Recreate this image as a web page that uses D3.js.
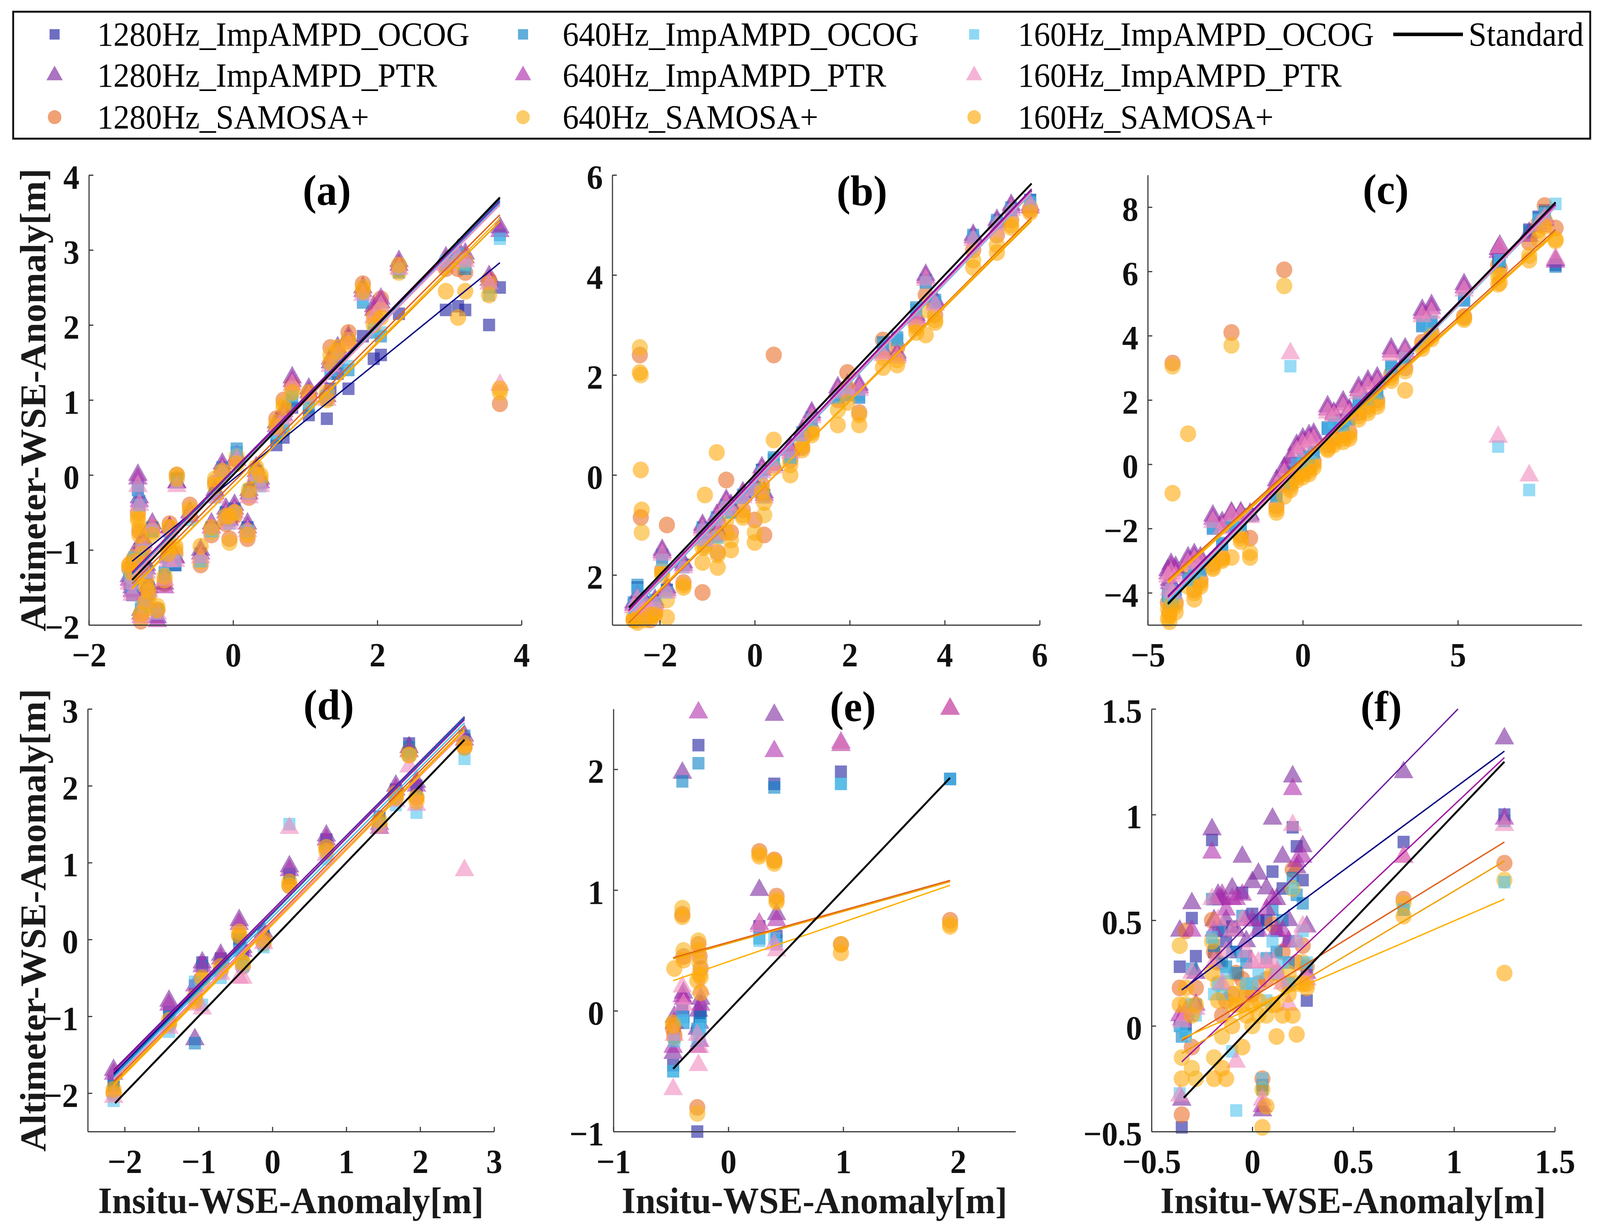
<!DOCTYPE html>
<html><head><meta charset="utf-8">
<script src="https://cdn.jsdelivr.net/npm/d3@7"></script>
<style>html,body{margin:0;padding:0;width:100%;height:100%;overflow:hidden;background:#fff}svg{display:block;width:100vw;height:100vh}</style>
</head><body>
<svg id="c" viewBox="0 0 4249 3149" preserveAspectRatio="none"></svg>
<script>
// ---------------- DATA ----------------
const seriesNames = ["1280Hz_ImpAMPD_OCOG","640Hz_ImpAMPD_OCOG","160Hz_ImpAMPD_OCOG",
  "1280Hz_ImpAMPD_PTR","640Hz_ImpAMPD_PTR","160Hz_ImpAMPD_PTR",
  "1280Hz_SAMOSA+","640Hz_SAMOSA+","160Hz_SAMOSA+"];
const seriesShapes = ["square","square","square","triangle","triangle","triangle","circle","circle","circle"];
const seriesFill = ["#2020a0","#0a82c4","#52c3ef","#7b2a9e","#b030ae","#f08cbe","#ea6f2a","#f8b21a","#ffa90a"];
const lineColors = ["#000080","#0072bd","#4dbeee","#6a1b9a","#a0189e","#ff8ec0","#e0601a","#f0a000","#ffb000"];
const standardName = "Standard";
const panelLabels = ["(a)","(b)","(c)","(d)","(e)","(f)"];
const xDomains = [[-2,4],[-3,6],[-5,9],[-2.5,3],[-1,2.5],[-0.5,1.5]];
const yDomains = [[-2,4],[-3,6],[-5,9],[-2.5,3],[-1,2.5],[-0.5,1.5]];
const xTicks = [[-2,0,2,4],[-2,0,2,4,6],[-5,0,5],[-2,-1,0,1,2,3],[-1,0,1,2],[-0.5,0,0.5,1,1.5]];
const yTicks = [[-2,-1,0,1,2,3,4],[-2,0,2,4,6],[-4,-2,0,2,4,6,8],[-2,-1,0,1,2,3],[-1,0,1,2],[-0.5,0,0.5,1,1.5]];
const yTickTextB = ["2","0","2","4","6"];
const xTitle = "Insitu-WSE-Anomaly[m]";
const yTitle = "Altimeter-WSE-Anomaly[m]";

// rows: [insitu x, O1280, O640, O160, P1280, P640, P160, S1280, S640, S160]
const panelA = [
[-1.44,-1.45,-1.4,-1.35,-1.35,-1.4,-1.45,-1.25,-1.2,-1.2],
[-1.4,-1.6,-1.55,-1.5,-1.5,-1.55,-1.6,-1.4,-1.35,-1.3],
[-1.37,-1.2,-1.15,-1.1,-1.05,-1.1,-1.2,-1.2,-1.1,-1.15],
[-1.32,-0.2,-0.15,-0.2,0.0,-0.05,-0.15,-0.5,-0.55,-0.6],
[-1.3,-0.4,-0.35,-0.4,-0.3,-0.35,-0.4,-0.75,-0.7,-0.8],
[-1.28,-1.85,-1.8,-1.75,-1.8,-1.85,-1.9,-1.95,-1.9,-1.85],
[-1.25,-1.0,-0.95,-1.0,-0.85,-0.9,-0.95,-1.0,-0.95,-1.05],
[-1.22,-1.7,-1.65,-1.7,-1.6,-1.65,-1.7,-1.75,-1.8,-1.7],
[-1.2,-1.3,-1.25,-1.3,-1.2,-1.25,-1.3,-1.45,-1.4,-1.5],
[-1.17,-1.55,-1.5,-1.55,-1.45,-1.5,-1.55,-1.6,-1.65,-1.55],
[-1.12,-0.75,-0.7,-0.75,-0.65,-0.7,-0.7,-0.7,-0.75,-0.8],
[-1.05,-1.85,-1.8,-1.85,-1.9,-1.95,-1.85,-1.8,-1.75,-1.8],
[-0.95,-1.35,-1.3,-1.35,-1.45,-1.5,-1.4,-1.45,-1.4,-1.35],
[-0.9,-1.15,-1.1,-1.15,-1.05,-1.1,-1.15,-0.95,-1.0,-1.05],
[-0.88,-0.75,-0.75,-0.8,-0.7,-0.7,-0.75,-0.65,-0.7,-0.7],
[-0.8,-1.2,-1.2,-1.15,-1.1,-1.1,-1.15,-1.05,-1.0,-0.95],
[-0.78,-0.05,-0.05,-0.1,-0.1,-0.1,-0.15,0.0,0.0,-0.05],
[-0.6,-0.55,-0.55,-0.6,-0.5,-0.55,-0.55,-0.4,-0.45,-0.5],
[-0.45,-1.05,-1.1,-1.15,-1.0,-1.05,-1.1,-1.2,-1.15,-0.95],
[-0.3,-0.7,-0.7,-0.75,-0.65,-0.7,-0.7,-0.8,-0.75,-0.7],
[-0.25,-0.25,-0.25,-0.3,-0.2,-0.25,-0.3,-0.1,-0.05,-0.15],
[-0.15,0.05,0.1,0.05,0.15,0.1,0.05,0.05,0.0,0.05],
[-0.1,-0.5,-0.5,-0.55,-0.45,-0.5,-0.55,-0.65,-0.6,-0.55],
[-0.05,-0.6,-0.6,-0.65,-0.55,-0.6,-0.65,-0.85,-0.9,-0.55],
[0.02,-0.45,-0.45,-0.5,-0.4,-0.45,-0.5,-0.55,-0.5,-0.5],
[0.05,0.3,0.35,0.3,0.2,0.25,0.2,0.2,0.25,0.15],
[0.2,-0.7,-0.7,-0.75,-0.65,-0.7,-0.75,-0.85,-0.75,-0.8],
[0.22,-0.25,-0.2,-0.25,-0.2,-0.25,-0.3,-0.3,-0.25,-0.2],
[0.32,0.05,0.05,0.0,0.1,0.05,0.0,-0.05,0.0,0.1],
[0.38,-0.1,-0.1,-0.15,-0.05,-0.1,-0.15,-0.1,-0.05,0.0],
[0.6,0.4,0.5,0.55,0.7,0.65,0.6,0.75,0.7,0.65],
[0.7,0.5,0.6,0.65,0.85,0.8,0.75,1.0,0.95,0.9],
[0.82,0.9,1.0,1.05,1.3,1.25,1.2,1.2,1.15,1.1],
[1.05,0.8,0.9,0.95,1.15,1.1,1.05,1.05,1.0,1.1],
[1.3,0.75,1.0,1.05,1.05,1.1,1.0,1.05,1.1,1.0],
[1.35,1.15,1.35,1.4,1.5,1.55,1.45,1.7,1.6,1.5],
[1.45,1.35,1.5,1.55,1.7,1.65,1.6,1.55,1.7,1.65],
[1.6,1.15,1.4,1.45,1.85,1.8,1.75,1.9,1.8,1.75],
[1.8,1.85,2.3,2.35,2.5,2.45,2.4,2.55,2.5,2.45],
[1.95,1.55,1.9,1.95,2.25,2.2,2.1,2.15,2.1,2.0],
[2.05,1.6,1.85,1.9,2.3,2.35,2.25,2.35,2.2,2.1],
[2.3,2.15,2.7,2.75,2.85,2.8,2.75,2.75,2.7,2.8],
[2.95,2.2,2.8,2.85,2.9,2.85,2.8,2.75,2.8,2.45],
[3.12,2.25,2.9,2.95,3.0,2.95,2.9,2.75,2.85,2.1],
[3.22,2.2,2.75,2.8,2.95,2.9,2.85,2.7,2.85,2.45],
[3.55,2.0,2.5,2.4,2.65,2.6,2.55,2.6,2.55,2.4],
[3.7,2.5,3.2,3.15,3.3,3.25,1.2,0.95,1.1,1.15]
];
const panelB = [
[-2.55,-2.6,-2.55,-2.6,-2.55,-2.6,-2.65,-2.9,-2.85,-2.9],
[-2.47,-2.25,-2.2,-2.3,-2.4,-2.45,-2.5,-2.8,-2.9,-2.95],
[-2.42,-2.7,-2.65,-2.7,-2.6,-2.6,-2.65,2.4,2.55,2.05],
[-2.4,-2.75,-2.7,-2.75,-2.7,-2.75,-2.8,-0.85,2.0,0.1],
[-2.38,-2.8,-2.8,-2.85,-2.75,-2.8,-2.8,-2.85,-1.15,-0.7],
[-2.3,-2.6,-2.55,-2.6,-2.55,-2.55,-2.6,-2.85,-2.8,-2.9],
[-2.2,-2.7,-2.65,-2.7,-2.65,-2.7,-2.7,-2.9,-2.85,-2.8],
[-2.1,-2.55,-2.5,-2.55,-2.5,-2.55,-2.6,-2.75,-2.7,-2.8],
[-1.95,-1.65,-1.6,-1.7,-1.5,-1.55,-1.6,-1.9,-1.95,-2.0],
[-1.85,-2.3,-2.3,-2.35,-2.25,-2.3,-2.35,-1.0,-2.5,-2.85],
[-1.5,-1.8,-1.8,-1.85,-1.75,-1.8,-1.85,-2.15,-2.2,-2.25],
[-1.1,-1.1,-1.05,-1.1,-1.0,-1.05,-1.1,-2.35,-1.45,-1.75],
[-1.05,-1.3,-1.25,-1.3,-1.2,-1.25,-1.3,-1.4,-1.45,-0.4],
[-0.8,-0.9,-0.85,-0.9,-0.8,-0.85,-0.9,-1.2,-1.25,0.45],
[-0.78,-1.2,-1.2,-1.25,-1.1,-1.15,-1.2,-1.55,-1.6,-1.85],
[-0.6,-0.65,-0.6,-0.65,-0.5,-0.55,-0.6,-0.1,-0.9,-1.15],
[-0.5,-0.75,-0.7,-0.75,-0.6,-0.65,-0.7,-1.15,-1.3,-1.5],
[-0.25,-0.45,-0.4,-0.45,-0.35,-0.4,-0.45,-0.7,-0.85,-0.8],
[0.0,-0.3,-0.25,-0.3,-0.2,-0.25,-0.3,-0.9,-1.15,-1.35],
[0.15,0.1,0.1,0.05,0.15,0.1,0.05,-0.2,-0.3,-0.35],
[0.2,-0.4,-0.4,-0.45,-0.35,-0.4,-0.45,-1.2,-0.8,-0.55],
[0.4,0.3,0.35,0.3,0.2,0.2,0.15,2.4,0.15,0.7],
[0.75,0.35,0.4,0.35,0.55,0.5,0.45,0.3,0.2,0.0],
[1.0,0.8,0.85,0.8,0.9,0.85,0.8,0.55,0.6,0.5],
[1.2,1.1,1.15,1.1,1.25,1.2,1.15,0.9,0.85,0.8],
[1.75,1.55,1.6,1.55,1.75,1.7,1.65,1.5,1.3,1.0],
[1.95,1.6,1.65,1.6,1.8,1.75,1.7,2.05,1.75,1.45],
[2.2,1.55,1.6,1.55,1.8,1.75,1.7,1.25,1.2,1.0],
[2.7,2.6,2.65,2.6,2.5,2.45,2.4,2.7,2.35,2.15],
[3.0,2.7,2.75,2.7,2.45,2.4,2.35,2.55,2.3,2.2],
[3.4,3.3,3.35,3.3,3.2,3.15,3.1,3.0,2.95,2.85],
[3.6,3.85,3.9,3.85,4.0,3.95,3.9,3.6,3.3,2.8],
[3.8,3.45,3.5,3.45,3.5,3.45,3.4,3.2,3.1,3.05],
[4.6,4.75,4.8,4.75,4.8,4.75,4.7,4.5,4.3,4.15],
[5.1,5.05,5.1,5.05,5.1,5.05,5.0,4.8,4.6,4.45],
[5.4,5.3,5.35,5.3,5.4,5.35,5.3,5.1,5.0,4.95],
[5.8,5.5,5.5,5.45,5.4,5.35,5.4,5.3,5.35,5.25]
];
const panelC = [
[-4.35,-4.1,-4.05,-4.1,-3.3,-3.4,-3.5,-4.3,-4.5,-4.8],
[-4.3,-4.2,-4.15,-4.2,-3.6,-3.7,-3.9,-4.6,-4.7,-4.9],
[-4.25,-3.9,-3.85,-3.9,-3.1,-3.2,-3.4,-4.0,-4.2,-4.4],
[-4.2,-4.3,-4.25,-4.3,-3.8,-3.9,-4.0,3.15,3.05,-0.9],
[-4.1,-4.0,-3.95,-4.0,-3.2,-3.3,-3.5,-4.3,-4.4,-4.6],
[-3.7,-3.6,-3.55,-3.6,-2.9,-3.0,-3.1,-3.2,-3.8,0.95],
[-3.5,-3.4,-3.35,-3.4,-2.8,-2.9,-3.0,-3.9,-4.0,-4.2],
[-3.3,-3.3,-3.25,-3.3,-2.9,-3.0,-3.05,-3.6,-3.7,-3.8],
[-2.9,-2.0,-1.95,-2.0,-1.6,-1.7,-1.8,-3.1,-3.2,-3.25],
[-2.6,-2.5,-2.45,-2.5,-1.8,-1.9,-2.0,-2.9,-2.95,-3.0],
[-2.3,-1.95,-1.9,-1.95,-1.5,-1.55,-1.6,4.1,3.7,-2.9],
[-2.0,-1.9,-1.85,-1.9,-1.5,-1.55,-1.6,-2.2,-2.3,-2.4],
[-1.7,-1.6,-1.55,-1.6,-1.55,-1.6,-1.65,-2.3,-2.75,-2.9],
[-0.85,-1.0,-0.95,-1.0,-0.5,-0.6,-0.7,-1.3,-1.4,-1.5],
[-0.6,-0.6,-0.55,-0.6,-0.1,-0.2,-0.3,6.05,5.55,-1.0],
[-0.4,-0.3,-0.25,3.05,0.2,0.1,3.45,-0.6,-0.7,-0.8],
[-0.2,0.0,0.05,0.0,0.6,0.5,0.4,-0.3,-0.4,-0.5],
[0.0,0.1,0.15,0.1,0.8,0.7,0.6,-0.2,-0.3,-0.4],
[0.2,0.2,0.25,0.2,0.9,0.8,0.7,-0.1,-0.2,-0.3],
[0.35,0.35,0.4,0.35,0.95,0.85,0.75,0.1,0.0,-0.1],
[0.8,1.1,1.15,1.1,1.8,1.7,1.6,0.6,0.5,0.45],
[1.0,1.3,1.35,1.3,1.6,1.55,1.5,0.8,0.7,0.6],
[1.3,1.2,1.25,1.2,1.95,1.85,1.75,0.9,0.8,0.7],
[1.5,1.4,1.45,1.4,1.7,1.65,1.55,1.0,0.9,0.8],
[1.8,1.9,1.95,1.9,2.4,2.3,2.2,1.6,1.5,1.4],
[2.1,2.0,2.05,2.0,2.6,2.5,2.4,1.8,1.7,1.6],
[2.4,2.2,2.25,2.2,2.7,2.6,2.5,2.0,1.9,1.8],
[2.85,3.0,3.05,3.0,3.6,3.5,3.4,2.8,2.7,2.6],
[3.3,3.3,3.35,3.3,3.6,3.5,3.45,3.0,2.9,2.3],
[3.85,4.3,4.35,4.3,4.8,4.7,4.6,3.8,3.7,3.6],
[4.15,4.4,4.45,4.4,4.95,4.85,4.7,4.1,4.0,3.9],
[5.2,5.1,5.15,5.1,5.6,5.5,5.4,4.6,4.5,4.55],
[6.3,6.3,6.35,0.55,6.7,6.6,0.85,6.2,5.85,5.6],
[6.35,6.4,6.3,6.35,6.8,6.7,6.75,6.1,5.9,5.65],
[7.3,7.3,7.25,-0.8,7.2,7.1,-0.35,6.9,6.5,6.35],
[7.6,7.7,7.65,7.6,7.5,7.4,7.45,7.5,7.3,7.0],
[7.8,7.9,7.85,7.8,7.7,7.6,7.65,8.05,7.6,7.4],
[8.15,6.2,6.15,8.1,6.35,6.3,6.4,7.35,6.95,7.0]
];
const panelD = [
[-2.15,-1.85,-1.9,-2.1,-1.7,-1.75,-2.05,-2.0,-2.0,-1.95],
[-1.4,-0.95,-1.0,-1.2,-0.8,-0.85,-1.15,-1.1,-1.1,-1.05],
[-1.05,-0.6,-1.35,-0.55,-1.3,-0.6,-0.85,-0.75,-0.75,-0.8],
[-0.95,-0.3,-0.35,-0.85,-0.3,-0.35,-0.9,-0.5,-0.55,-0.5],
[-0.7,-0.25,-0.3,-0.5,-0.2,-0.25,-0.45,-0.4,-0.4,-0.35],
[-0.45,-0.05,0.0,-0.15,0.25,0.2,-0.5,0.05,0.1,0.05],
[-0.4,-0.15,-0.2,-0.35,-0.1,-0.15,-0.5,-0.35,-0.3,-0.3],
[-0.12,0.1,0.05,-0.1,0.1,0.05,-0.05,-0.05,-0.05,0.0],
[0.23,0.8,0.85,1.5,0.95,0.9,1.45,0.7,0.7,0.75],
[0.73,1.3,1.25,1.05,1.35,1.3,1.1,1.2,1.2,1.15],
[1.45,1.6,1.55,1.5,1.45,1.5,1.45,1.5,1.5,1.55],
[1.67,1.95,1.9,1.75,2.0,1.95,1.8,1.85,1.9,1.85],
[1.85,2.55,2.5,2.4,2.5,2.45,2.25,2.45,2.4,2.4],
[1.95,2.0,1.95,1.65,2.05,2.0,1.75,1.85,1.85,1.8],
[2.6,2.6,2.65,2.35,2.65,2.6,0.9,2.5,2.55,2.5]
];
const panelE = [
[-0.48,-0.45,-0.5,-0.5,-0.35,-0.3,-0.65,-0.15,-0.1,-0.12],
[-0.47,-0.2,-0.22,-0.25,-0.05,-0.1,-0.2,-0.2,-0.22,0.35],
[-0.4,0.0,1.9,-0.05,1.97,0.12,0.2,0.8,0.85,0.78],
[-0.39,-0.05,-0.1,-0.08,0.15,0.1,0.05,0.45,0.5,0.42],
[-0.26,2.2,2.05,-0.15,0.0,2.47,-0.45,0.55,0.58,0.5],
[-0.25,-0.05,-0.1,-0.2,-0.1,-0.25,-0.3,0.45,0.4,0.3],
[-0.24,0.0,-0.05,-0.12,0.1,0.05,0.18,0.35,0.28,0.15],
[-0.27,-1.0,-0.15,-0.25,-0.15,-0.3,-0.2,-0.8,-0.85,0.25],
[0.27,0.7,0.6,0.58,1.0,0.72,0.7,1.32,1.3,1.28],
[0.4,1.88,1.85,0.6,2.45,2.15,0.55,1.25,1.22,1.24],
[0.42,0.62,0.58,0.55,0.8,0.75,0.5,0.95,0.92,0.9],
[0.98,1.98,1.88,1.88,2.2,2.22,2.2,0.55,0.55,0.48],
[1.93,1.92,1.92,1.92,2.5,2.5,2.5,0.75,0.72,0.7]
];
const panelF = [
[-0.36,0.28,0.0,-0.32,0.45,0.05,-0.33,0.18,0.38,0.1],
[-0.35,-0.48,-0.05,0.0,-0.35,0.03,0.02,-0.42,-0.15,-0.25],
[-0.33,0.0,-0.03,-0.05,0.05,0.07,0.05,0.45,0.1,0.18],
[-0.3,0.51,0.27,0.1,0.58,0.45,0.25,-0.1,-0.2,0.05],
[-0.28,0.33,0.1,0.05,0.25,0.1,0.08,0.18,-0.25,0.1],
[-0.2,0.88,0.6,0.42,0.93,0.82,0.6,0.5,0.4,0.25],
[-0.19,0.35,0.38,0.15,0.5,0.45,0.3,0.35,-0.15,-0.25],
[-0.17,0.6,0.45,0.2,0.62,0.6,0.5,0.3,0.2,0.12],
[-0.15,0.45,0.3,0.15,0.6,0.62,0.2,0.05,-0.05,-0.2],
[-0.13,0.4,0.28,0.25,0.5,0.55,0.35,0.12,0.2,-0.25],
[-0.1,0.47,0.35,-0.12,0.65,0.6,0.45,0.15,0.1,0.0],
[-0.08,0.35,0.25,-0.4,0.45,0.6,-0.17,0.25,0.15,0.1],
[-0.05,0.63,0.52,0.33,0.8,0.62,0.5,0.22,0.1,-0.1],
[-0.03,0.33,0.3,0.2,0.4,0.5,0.35,0.15,0.18,0.05],
[0.0,0.53,0.5,0.2,0.68,0.5,0.3,0.15,0.0,0.1],
[0.03,0.5,0.45,0.25,0.72,0.45,0.3,0.2,0.05,0.12],
[0.05,-0.28,-0.3,-0.25,-0.4,-0.38,-0.35,-0.25,-0.3,-0.48],
[0.07,0.5,0.32,0.12,0.65,0.55,0.3,0.22,0.05,-0.38],
[0.1,0.73,0.55,0.4,0.98,0.6,0.3,0.48,0.25,0.1],
[0.12,0.45,0.35,0.25,0.6,0.45,0.25,0.25,0.1,-0.05],
[0.15,0.65,0.5,0.3,0.8,0.45,0.2,0.35,0.2,0.05],
[0.18,0.4,0.3,0.2,0.5,0.4,0.1,0.2,0.25,0.15],
[0.2,0.94,0.7,0.65,1.18,1.12,0.95,0.74,0.65,0.05],
[0.22,0.85,0.62,0.4,0.75,0.78,0.4,0.3,0.2,-0.04],
[0.25,0.69,0.58,0.45,0.85,0.8,0.47,0.38,0.3,0.2],
[0.27,0.12,0.28,0.3,0.47,0.25,0.22,0.28,0.2,0.18],
[0.75,0.87,0.55,0.55,1.2,0.8,0.8,0.6,0.58,0.52],
[1.25,1.0,0.97,0.68,1.36,0.98,0.95,0.77,0.69,0.25]
];
// fitted lines: [series, x0, y0, x1, y1]
const linesA = [[0,-1.4,-1.15,3.7,2.83],[3,-1.4,-1.3,3.7,3.68],[6,-1.4,-1.45,3.7,3.47],[1,-1.4,-1.32,3.7,3.66],[4,-1.4,-1.3,3.7,3.64],[7,-1.4,-1.5,3.7,3.38],[2,-1.4,-1.35,3.7,3.62],[5,-1.4,-1.35,3.7,3.6],[8,-1.4,-1.52,3.7,3.42]];
const linesB = [[0,-2.65,-2.75,5.83,5.68],[3,-2.65,-2.7,5.83,5.72],[6,-2.65,-2.95,5.83,5.15],[1,-2.65,-2.75,5.83,5.66],[4,-2.65,-2.72,5.83,5.7],[7,-2.65,-2.9,5.83,5.08],[2,-2.65,-2.78,5.83,5.64],[5,-2.65,-2.75,5.83,5.66],[8,-2.65,-2.92,5.83,5.12]];
const linesC = [[0,-4.35,-4.3,8.15,8.05],[3,-4.35,-4.1,8.15,8.1],[6,-4.35,-3.6,8.15,7.3],[1,-4.35,-4.3,8.15,8.05],[4,-4.35,-4.15,8.15,8.08],[7,-4.35,-3.65,8.15,7.22],[2,-4.35,-4.25,8.15,8.0],[5,-4.35,-4.2,8.15,8.02],[8,-4.35,-3.7,8.15,7.18]];
const linesD = [[0,-2.15,-1.75,2.6,2.88],[3,-2.15,-1.7,2.6,2.9],[6,-2.15,-1.85,2.6,2.78],[1,-2.15,-1.78,2.6,2.89],[4,-2.15,-1.72,2.6,2.86],[7,-2.15,-1.88,2.6,2.74],[2,-2.15,-1.8,2.6,2.82],[5,-2.15,-1.82,2.6,2.7],[8,-2.15,-1.9,2.6,2.72]];
const linesE = [[6,-0.48,0.44,1.93,1.08],[7,-0.48,0.43,1.93,1.07],[8,-0.48,0.25,1.93,1.04]];
const linesF = [[3,-0.33,0.18,1.02,1.5],[0,-0.35,0.17,1.25,1.3],[4,-0.35,-0.17,1.25,1.27],[6,-0.35,-0.07,1.25,0.87],[7,-0.35,-0.13,1.25,0.78],[8,-0.35,-0.06,1.25,0.6]];
// 1:1 standard line extent [x0, x1]
const standardExtent = [[-1.4,3.7],[-2.65,5.83],[-4.35,8.15],[-2.13,2.6],[-0.48,1.93],[-0.34,1.25]];

// ---------------- LAYOUT ----------------
const panels = [panelA,panelB,panelC,panelD,panelE,panelF];
const fits = [linesA,linesB,linesC,linesD,linesE,linesF];
const boxes = [
  {l:236,r:1385,t:448,b:1600},{l:1626,r:2761,t:448,b:1600},{l:3048,r:4201,t:448,b:1600},
  {l:233,r:1312,t:1815,b:2897},{l:1629,r:2697,t:1815,b:2897},{l:3058,r:4129,t:1815,b:2897}];
const titlePos = [[868,524],[2289,526],[3680,522],[873,1842],[2265,1846],[3668,1846]];
const drawOrder = [0,3,6,1,4,7,2,5,8];
const FONT = "Liberation Serif, Times New Roman, serif";
const ALPHA = 0.6;

const svg = d3.select("#c");
svg.append("rect").attr("width",4249).attr("height",3149).attr("fill","#fff");

const symType = {square:d3.symbolSquare, triangle:d3.symbolTriangle, circle:d3.symbolCircle};
const symSize = {square:1024, triangle:1170, circle:1450};
function sym(s, k){ return d3.symbol().type(symType[seriesShapes[s]]).size(symSize[seriesShapes[s]]*(k||1))(); }
const fmt = v => (v<0?"\u2212":"") + Math.abs(v);

panels.forEach((rows,i)=>{
  const box = boxes[i];
  const x = d3.scaleLinear().domain(xDomains[i]).range([box.l,box.r]);
  const y = d3.scaleLinear().domain(yDomains[i]).range([box.b,box.t]);
  const g = svg.append("g");
  drawOrder.forEach(s=>{
    const pts = rows.filter(r=>r[s+1]!=null).map(r=>[r[0],r[s+1]]);
    g.append("g").selectAll("path").data(pts).join("path")
      .attr("d",sym(s))
      .attr("transform",d=>`translate(${x(d[0])},${y(d[1])})`)
      .attr("fill",seriesFill[s]).attr("fill-opacity",ALPHA);
  });
  g.append("g").selectAll("line").data(fits[i]).join("line")
    .attr("x1",d=>x(d[1])).attr("y1",d=>y(d[2])).attr("x2",d=>x(d[3])).attr("y2",d=>y(d[4]))
    .attr("stroke",d=>lineColors[d[0]]).attr("stroke-width",3.5);
  const se = standardExtent[i];
  g.append("line").attr("x1",x(se[0])).attr("y1",y(se[0])).attr("x2",x(se[1])).attr("y2",y(se[1]))
    .attr("stroke","#000").attr("stroke-width",5);

  const xa = g.append("g").attr("transform",`translate(0,${box.b})`)
    .call(d3.axisBottom(x).tickValues(xTicks[i]).tickSizeInner(-12).tickSizeOuter(0).tickPadding(45).tickFormat(fmt));
  const yfmt = i===1 ? ((v,k)=>yTickTextB[k]) : fmt;
  const ya = g.append("g").attr("transform",`translate(${box.l},0)`)
    .call(d3.axisLeft(y).tickValues(yTicks[i]).tickSizeInner(-12).tickSizeOuter(0).tickPadding(25).tickFormat(yfmt));
  [xa,ya].forEach(a=>{
    a.selectAll("path,line").attr("stroke","#3a3a3a").attr("stroke-width",3);
    a.selectAll("text").attr("font-family",FONT).attr("font-weight","bold").attr("font-size",86).attr("fill","#111");
  });
  ya.selectAll("text").attr("dy","0.4em");
  svg.append("text").attr("x",titlePos[i][0]).attr("y",titlePos[i][1]).attr("text-anchor","middle")
    .attr("font-family",FONT).attr("font-weight","bold").attr("font-size",110).attr("fill","#000").text(panelLabels[i]);
  if(i>=3){
    svg.append("text").attr("x",(box.l+box.r)/2).attr("y",3106).attr("text-anchor","middle")
      .attr("font-family",FONT).attr("font-weight","bold").attr("font-size",95).attr("fill","#1a1a1a").text(xTitle);
  }
  if(i===0||i===3){
    const cy=(box.t+box.b)/2;
    svg.append("text").attr("transform",`translate(120,${cy}) rotate(-90)`).attr("text-anchor","middle")
      .attr("font-family",FONT).attr("font-weight","bold").attr("font-size",96).attr("fill","#1a1a1a").text(yTitle);
  }
});

// ---------------- LEGEND ----------------
const lg = svg.append("g");
lg.append("rect").attr("x",35).attr("y",30).attr("width",4188).attr("height",325)
  .attr("fill","#fff").attr("stroke","#111").attr("stroke-width",5);
const rowY = [88,193,300];
const colMarkX = [145,1389,2587];
const colTextX = [258,1494,2703];
const legendCols = [[0,3,6],[1,4,7],[2,5,8]];
legendCols.forEach((col,c)=>{
  col.forEach((s,r)=>{
    lg.append("path").attr("d",sym(s,0.7)).attr("transform",`translate(${colMarkX[c]},${rowY[r]})`)
      .attr("fill",seriesFill[s]).attr("fill-opacity",ALPHA+0.05);
    lg.append("text").attr("x",colTextX[c]).attr("y",rowY[r]+29)
      .attr("font-family",FONT).attr("font-size",86).attr("fill","#000").text(seriesNames[s]);
  });
});
lg.append("line").attr("x1",3700).attr("x2",3885).attr("y1",rowY[0]).attr("y2",rowY[0]).attr("stroke","#000").attr("stroke-width",9);
lg.append("text").attr("x",3900).attr("y",rowY[0]+29).attr("font-family",FONT).attr("font-size",86).attr("fill","#000").text(standardName);
</script>
</body></html>
